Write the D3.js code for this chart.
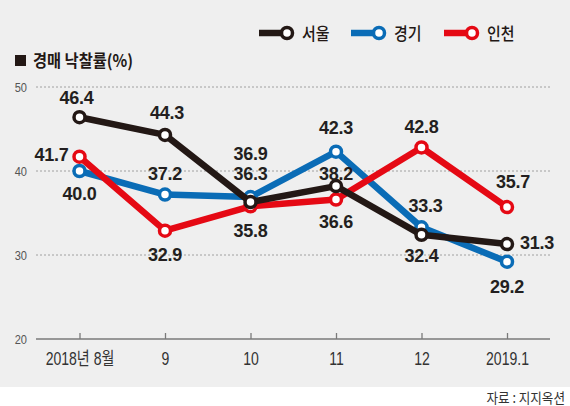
<!DOCTYPE html>
<html>
<head>
<meta charset="utf-8">
<script src="https://cdn.jsdelivr.net/npm/d3@7"></script>
<style>
  body { margin: 0; background: #fff; }
  svg { display: block; }
</style>
</head>
<body>
<div id="chart"></div>
<script>
// data
const months = ['2018년 8월', '9', '10', '11', '12', '2019.1'];
const seoul = [46.4, 44.3, 36.3, 38.2, 32.4, 31.3];
const gyeonggi = [40.0, 37.2, 36.9, 42.3, 33.3, 29.2];
const incheon = [41.7, 32.9, 35.8, 36.6, 42.8, 35.7];
const yTicks = [20, 30, 40, 50];

// label offsets (dx, dy) from each marker so labels stay clear of the lines
const seoulPos = [[-3, -20], [2, -22], [0, -29], [0, -13], [0, 21], [30, -2]];
const gyeonggiPos = [[0, 22], [0, -21], [0, -44], [0, -24], [4, -22], [0, 25]];
const incheonPos = [[-28, -2], [0, 24], [0, 24], [0, 22], [0, -21], [6, -26]];

const series = [
    { name: '서울', values: seoul, color: '#231815', pos: seoulPos },
    { name: '경기', values: gyeonggi, color: '#0a6cb6', pos: gyeonggiPos },
    { name: '인천', values: incheon, color: '#e50914', pos: incheonPos }
];

const width = 570, height = 406;
const sans = "'Liberation Sans', Arial, sans-serif";
const kr = "'Noto Sans CJK KR', sans-serif";

const svg = d3.select('#chart').append('svg')
    .attr('width', width)
    .attr('height', height);

svg.append('rect')
    .attr('width', width)
    .attr('height', 387)
    .attr('fill', '#efefef');

const x = d3.scalePoint().domain(months).range([79.5, 507]);
const y = d3.scaleLinear().domain([20, 50]).range([339, 87]);

// grid
svg.selectAll('.grid')
    .data(yTicks.filter(d => d > 20))
    .enter().append('line')
    .attr('x1', 36).attr('x2', 550)
    .attr('y1', d => y(d)).attr('y2', d => y(d))
    .attr('stroke', '#a0a0a0')
    .attr('stroke-width', 1)
    .attr('stroke-dasharray', '2,2');

// y labels
svg.selectAll('.ytick')
    .data(yTicks)
    .enter().append('text')
    .attr('transform', d => 'translate(27,' + (y(d) + 4.5) + ') scale(0.85,1)')
    .attr('text-anchor', 'end')
    .style('font', '13px ' + sans)
    .attr('fill', '#555')
    .text(d => d);

// x axis
const xAxis = d3.axisBottom(x).tickSize(0).tickPadding(0);
const ax = svg.append('g').attr('transform', 'translate(0,' + y(20) + ')').call(xAxis);
ax.select('.domain').remove();
ax.append('line').attr('x1', 36).attr('x2', 550).attr('stroke', '#7a7a7a').attr('stroke-width', 1.3);
ax.selectAll('.tick').append('line').attr('y1', 0).attr('y2', -6).attr('stroke', '#7a7a7a').attr('stroke-width', 1.3);
ax.selectAll('.tick text')
    .attr('y', 0)
    .attr('dy', 0)
    .attr('transform', 'translate(0,25.5) scale(0.78,1)')
    .style('font', '18px ' + sans)
    .style('font-family', "'Liberation Sans', 'Noto Sans CJK KR', sans-serif")
    .attr('fill', '#333');

// lines and markers, black on top
const line = d3.line()
    .x((d, i) => x(months[i]))
    .y(d => y(d));

[series[1], series[2], series[0]].forEach(s => {
    svg.append('path')
        .datum(s.values)
        .attr('d', line)
        .attr('fill', 'none')
        .attr('stroke', s.color)
        .attr('stroke-width', 6.5)
        .attr('stroke-linejoin', 'round');
    svg.selectAll(null)
        .data(s.values)
        .enter().append('circle')
        .attr('cx', (d, i) => x(months[i]))
        .attr('cy', d => y(d))
        .attr('r', 5.5)
        .attr('fill', '#fff')
        .attr('stroke', s.color)
        .attr('stroke-width', 3.5);
});

// value labels
series.forEach(s => {
    svg.selectAll(null)
        .data(s.values)
        .enter().append('text')
        .attr('x', (d, i) => x(months[i]) + s.pos[i][0])
        .attr('y', (d, i) => y(d) + s.pos[i][1] + 6.5)
        .attr('text-anchor', 'middle')
        .style('font', 'bold 18px ' + sans)
        .style('letter-spacing', '-0.3px')
        .attr('fill', '#231f20')
        .text(d => d.toFixed(1));
});

// title
svg.append('rect').attr('x', 15).attr('y', 55).attr('width', 11).attr('height', 11).attr('fill', '#231815');
svg.append('text')
    .attr('transform', 'translate(33,67) scale(0.9,1)')
    .style('font', 'bold 17px ' + kr)
    .attr('fill', '#231815')
    .text('경매 낙찰률(%)');

// legend
const legendX = [259, 351, 444];
series.forEach((s, i) => {
    const g = svg.append('g').attr('transform', 'translate(' + legendX[i] + ',33)');
    g.append('line').attr('x1', 0).attr('x2', 26).attr('stroke', s.color).attr('stroke-width', 6.5);
    g.append('circle').attr('cx', 28).attr('r', 5.5).attr('fill', '#fff').attr('stroke', s.color).attr('stroke-width', 3.5);
    g.append('text')
        .attr('transform', 'translate(43,6.5) scale(0.88,1)')
        .style('font', '500 17px ' + kr)
        .attr('fill', '#231815')
        .text(s.name);
});

// source
svg.append('text')
    .attr('transform', 'translate(565,403) scale(0.9,1)')
    .attr('text-anchor', 'end')
    .style('font', '14px ' + kr)
    .attr('fill', '#333')
    .text('자료 : 지지옥션');
</script>
</body>
</html>
